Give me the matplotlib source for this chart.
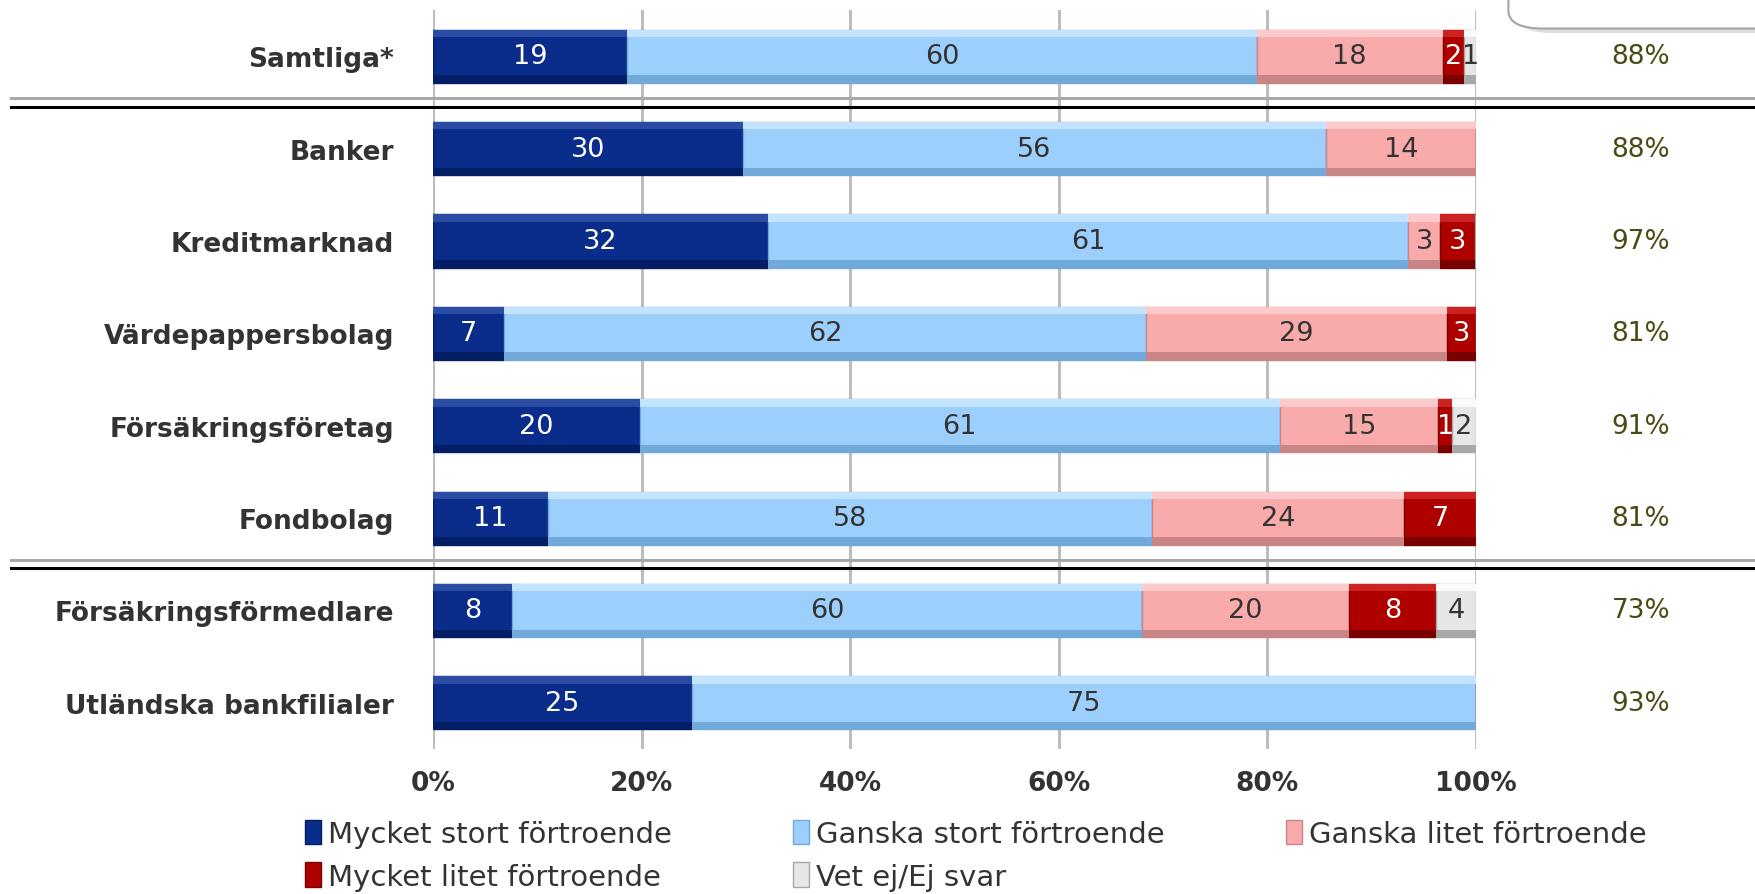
import numpy as np
import matplotlib.pyplot as plt
from matplotlib.patches import Patch, FancyBboxPatch
from matplotlib.lines import Line2D
import matplotlib.transforms as mtransforms

plt.rcParams['font.family'] = ['DejaVu Sans']

categories = ['Samtliga*', 'Banker', 'Kreditmarknad', 'Värdepappersbolag',
              'Försäkringsföretag', 'Fondbolag', 'Försäkringsförmedlare',
              'Utländska bankfilialer']

mycket_stort = [18.6, 29.7, 32.1, 6.8, 19.8, 11.0, 7.6, 24.8]
ganska_stort = [60.4, 55.9, 61.4, 61.6, 61.4, 57.9, 60.4, 75.2]
ganska_litet = [17.8, 14.4, 3.1, 28.8, 15.2, 24.2, 19.8, 0]
mycket_litet = [2.1, 0, 3.3, 2.8, 1.3, 6.9, 8.4, 0]
vet_ej = [1.1, 0, 0, 0, 2.3, 0, 3.8, 0]

svarsfrekvens = ['88%', '88%', '97%', '81%', '91%', '81%', '73%', '93%']

series_names = ['Mycket stort förtroende', 'Ganska stort förtroende',
                'Ganska litet förtroende', 'Mycket litet förtroende',
                'Vet ej/Ej svar']
series = [mycket_stort, ganska_stort, ganska_litet, mycket_litet, vet_ej]

# face, top highlight, bottom shade, label colour
styles = [('#0A2C8A', '#2A4DA3', '#041E66', 'white'),
          ('#9DCFFD', '#C3E3FF', '#72A9DB', '#333333'),
          ('#F9AAAB', '#FCCACA', '#C98485', '#333333'),
          ('#AF0000', '#CC2222', '#7A0000', 'white'),
          ('#E6E6E6', '#FAFAFA', '#A8A8A8', '#333333')]

fig = plt.figure(figsize=(17.56, 8.95), dpi=100)
ax = fig.add_axes([0.2466, 0.162, 0.5939, 0.8257])

y = np.arange(len(categories))
h = 0.575
hb = 0.08
left = np.zeros(len(categories))
handles = []
for vals, (fc, hi, lo, tc), name in zip(series, styles, series_names):
    vals = np.array(vals, dtype=float)
    ax.barh(y, vals, left=left, height=h, color=fc, edgecolor=lo, linewidth=1, zorder=3)
    ax.barh(y - h / 2 + hb / 2, vals, left=left, height=hb, color=hi, linewidth=0, zorder=4)
    ax.barh(y + h / 2 - hb / 2, vals, left=left, height=hb, color=lo, linewidth=0, zorder=4)
    for yi, l, v in zip(y, left, vals):
        if v > 0:
            ax.text(l + v / 2, yi, '%.0f' % v, ha='center', va='center',
                    fontsize=19.5, color=tc, zorder=5)
    left += vals
    handles.append(Patch(facecolor=fc, edgecolor=lo, linewidth=1))

ax.set_xlim(0, 100)
ax.set_ylim(len(categories) - 0.5, -0.5)
ax.set_xticks(np.arange(0, 101, 20))
ax.set_xticklabels(['%d%%' % t for t in range(0, 101, 20)], fontsize=19,
                   fontweight='bold', color='#333333')
ax.set_yticks(y)
ax.set_yticklabels(categories, fontsize=19, fontweight='bold', color='#333333')
ax.tick_params(axis='both', length=0)
ax.tick_params(axis='x', pad=15)
ax.tick_params(axis='y', pad=28)
for s in ax.spines.values():
    s.set_visible(False)
ax.grid(axis='x', color='#BDBDBD', linewidth=2.2, zorder=0)
ax.set_axisbelow(True)

# response rates on the right
trans = mtransforms.blended_transform_factory(fig.transFigure, ax.transData)
for yi, txt in zip(y, svarsfrekvens):
    ax.text(0.9345, yi, txt, transform=trans,
            ha='center', va='center', fontsize=19, color='#4A4A12')

# double separator lines
for sep in [0.5, 5.5]:
    fig.add_artist(Line2D([0.0063, 1.0], [sep - 0.05, sep - 0.05], transform=trans,
                          color='#A8A8A8', linewidth=2.2))
    fig.add_artist(Line2D([0.0063, 1.0], [sep + 0.045, sep + 0.045], transform=trans,
                          color='black', linewidth=2.2))

# rounded box peeking in at the top right
fig.add_artist(FancyBboxPatch((0.864, 0.962), 0.2, 0.1,
                              boxstyle='round,pad=0,rounding_size=0.02',
                              transform=fig.transFigure, facecolor='#C8C8C8',
                              edgecolor='none', alpha=0.6))
fig.add_artist(FancyBboxPatch((0.859, 0.967), 0.2, 0.1,
                              boxstyle='round,pad=0,rounding_size=0.02',
                              transform=fig.transFigure, facecolor='white',
                              edgecolor='#A5A5A5', linewidth=1.5))

order = [0, 3, 1, 4, 2]
fig.legend([handles[i] for i in order], [series_names[i] for i in order],
           ncol=3, loc='upper left', bbox_to_anchor=(0.1735, 0.083),
           frameon=False, fontsize=21, borderpad=0, borderaxespad=0,
           handlelength=0.55, handleheight=0.9, handletextpad=0.25,
           columnspacing=4.15, labelspacing=0.5, labelcolor='#333333')

fig.savefig('out.png', dpi=100)
